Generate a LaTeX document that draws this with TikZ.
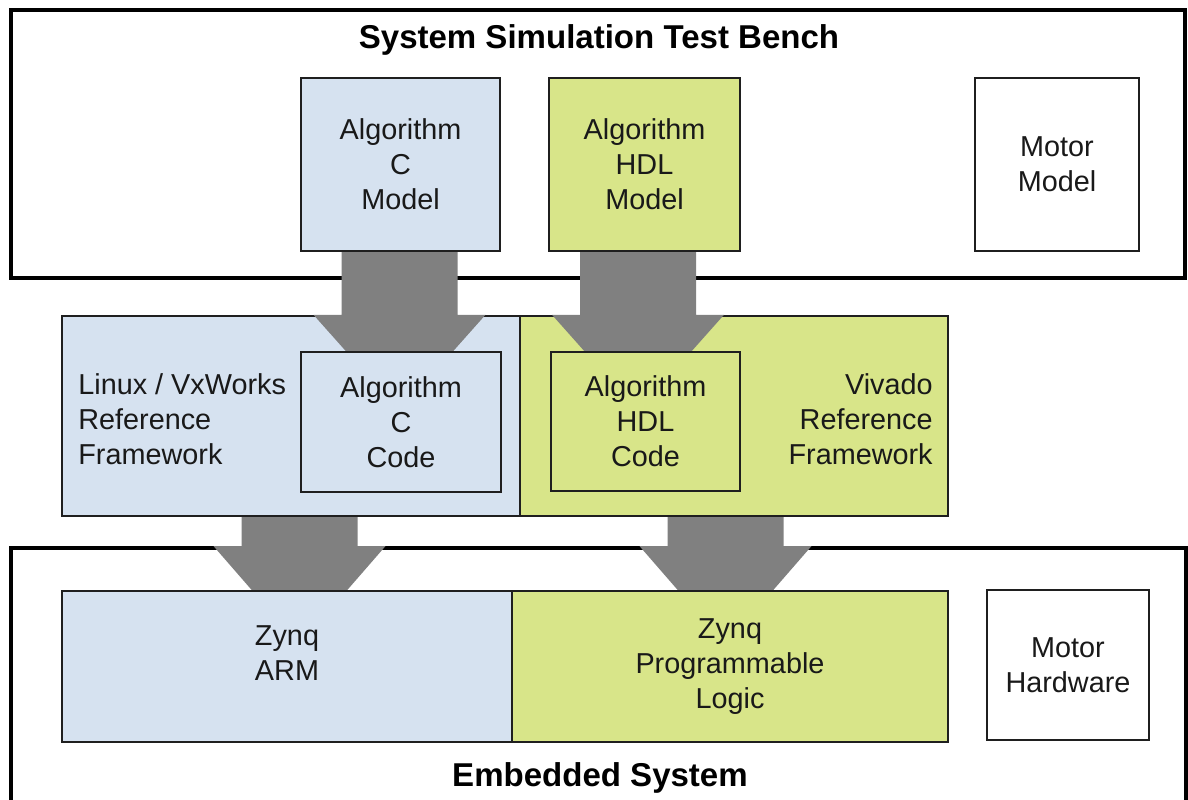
\documentclass[tikz,border=0pt]{standalone}
\usepackage{fontspec}
\setmainfont{Liberation Sans}
\usetikzlibrary{calc,positioning}
\definecolor{armblue}{HTML}{D6E2F0}
\definecolor{plgreen}{HTML}{D8E589}
\definecolor{arrowgray}{HTML}{808080}
\newcommand{\boxfont}{\fontsize{16.4}{19.9}\selectfont}
\newcommand{\titlefont}{\fontsize{18.8}{22}\selectfont\bfseries}
% #1 shaft x, #2 from, #3 head starts at, #4 to, #5 head half width, #6 tip half width
\newcommand{\bigarrow}[6]{%
  \coordinate (ax) at (#1,0);
  \fill[arrowgray] ($(ax |- #2.south)+(-58,0)$) -- ($(ax |- #2.south)+(58,0)$)
    -- ($(ax |- #3.north)+(58,0)$) -- ($(ax |- #3.north)+(#5,0)$)
    -- ($(ax |- #4.north)+(#6,0)$) -- ($(ax |- #4.north)+(-#6,0)$)
    -- ($(ax |- #3.north)+(-#5,0)$) -- ($(ax |- #3.north)+(-58,0)$) -- cycle;
}

\begin{document}
\begin{tikzpicture}[x=0.02cm, y=-0.02cm,
    frame/.style={draw=black, line width=2.2pt, inner sep=0pt, fill=white},
    box/.style={draw=black!88, line width=1.4pt, align=center, font=\boxfont, text=black!90},
    cbox/.style={box, fill=armblue},
    hbox/.style={box, fill=plgreen},
    wbox/.style={box, fill=white},
    txt/.style={font=\boxfont, text=black!90, inner sep=0pt},
    title/.style={font=\titlefont, text=black}
]
\useasboundingbox (0,0) rectangle (1188,800);

% test bench
\node[frame, minimum width=23.48cm, minimum height=5.36cm] (bench) at (598,144) {};
\node[title] (benchtitle) at (599,40) {System Simulation Test Bench};
\node[cbox, minimum width=3.98cm, minimum height=3.46cm] (cmodel) at (400.5,164.5) {Algorithm\\C\\Model};
\node[hbox, minimum width=3.82cm, minimum height=3.46cm] (hdlmodel) at (644.5,164.5) {Algorithm\\HDL\\Model};
\node[wbox, minimum width=3.28cm, minimum height=3.46cm] (motormodel) at (1057,164.5) {Motor\\Model};

% reference frameworks
\node[cbox, minimum width=9.16cm, minimum height=4cm] (linuxfw) at (291,416) {};
\node[hbox, minimum width=8.56cm, minimum height=4cm] (vivadofw) at (734,416) {};
\node[txt, align=left, anchor=west] (linuxtxt) at (78,419) {Linux / VxWorks\\Reference\\Framework};
\node[txt, align=right, anchor=east] (vivadotxt) at (933,419) {Vivado\\Reference\\Framework};
\node[cbox, minimum width=4cm, minimum height=2.8cm] (ccode) at (401,422) {Algorithm\\C\\Code};
\node[hbox, minimum width=3.78cm, minimum height=2.78cm] (hdlcode) at (645.5,421.5) {Algorithm\\HDL\\Code};

% embedded system
\node[frame, minimum width=23.5cm, minimum height=5.1cm] (embedded) at (598.5,675.5) {};
\node[title] (embtitle) at (600,778) {Embedded System};
\node[cbox, minimum width=9cm, minimum height=3.02cm] (arm) at (287,666.5) {};
\node[txt, align=center] (armtxt) at (287,653) {Zynq\\ARM};
\node[hbox, minimum width=8.72cm, minimum height=3.02cm] (pl) at (730,666.5) {Zynq\\Programmable\\Logic};
\node[wbox, minimum width=3.24cm, minimum height=3cm] (motorhw) at (1068,665) {Motor\\Hardware};

% big arrows
\bigarrow{399.5}{cmodel}{linuxfw}{ccode}{86}{54}
\bigarrow{638}{hdlmodel}{vivadofw}{hdlcode}{86}{54}
\bigarrow{299.5}{linuxfw}{embedded}{arm}{86}{48}
\bigarrow{725.5}{vivadofw}{embedded}{pl}{86}{48}

\end{tikzpicture}
\end{document}
